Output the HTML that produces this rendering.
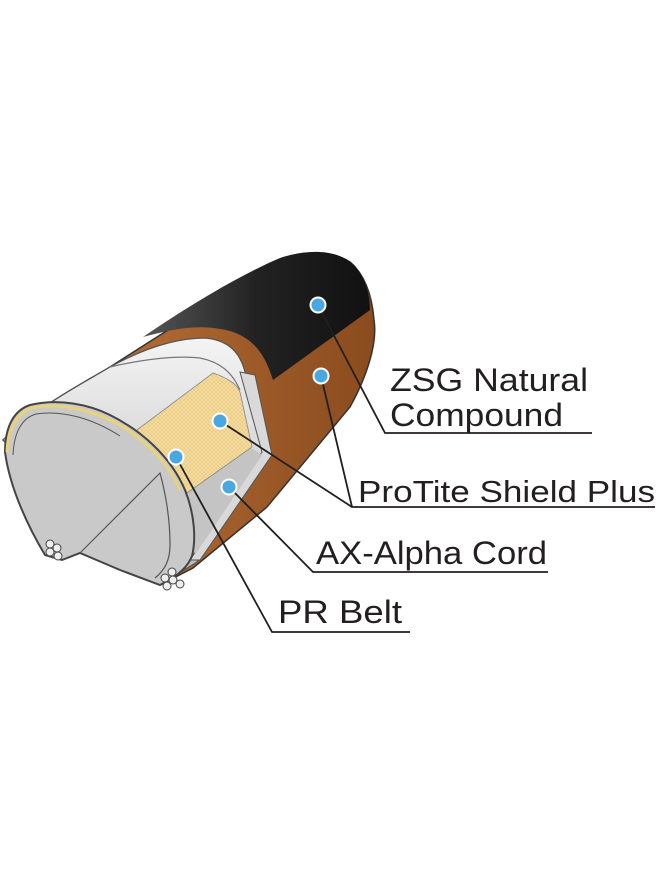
<!DOCTYPE html>
<html><head><meta charset="utf-8"><style>
html,body{margin:0;padding:0;background:#fff;width:660px;height:890px;overflow:hidden}
svg{display:block}
text{font-family:"Liberation Sans",sans-serif;fill:#231f20}
</style></head><body>
<svg width="660" height="890" viewBox="0 0 660 890">
<defs>
<pattern id="mesh" width="4" height="4" patternUnits="userSpaceOnUse">
<rect width="4" height="4" fill="#f6e0a8"/><path d="M0 0L4 4M4 0L0 4" stroke="#e8c77a" stroke-width="0.7"/>
</pattern>
<linearGradient id="blk" x1="0" y1="0" x2="1" y2="0"><stop offset="0" stop-color="#555"/><stop offset=".5" stop-color="#222"/><stop offset="1" stop-color="#111"/></linearGradient>
<linearGradient id="brn" x1="0" y1="0" x2="1" y2="0"><stop offset="0" stop-color="#c47a3e"/><stop offset="1" stop-color="#8a4b1e"/></linearGradient>
<linearGradient id="wht" x1="0" y1="0" x2="0" y2="1"><stop offset="0" stop-color="#f4f4f4"/><stop offset="1" stop-color="#b8b8b8"/></linearGradient>
</defs>
<path d="M3 440 C40 405 80 385 110 367 L157 337 C200 310 230 290 260 270 C290 252 330 250 350 262 C365 275 372 295 374 320 C378 345 365 380 350 407 L267 507 L193 568 L160 585 Z" fill="url(#brn)" stroke="#333" stroke-width="1.5"/>
<path d="M143 337 C190 305 240 275 280 258 C310 248 340 250 355 266 C366 280 370 295 370 310 L273 380 C265 355 255 340 233 332 C200 322 170 330 143 337 Z" fill="url(#blk)"/>
<path d="M3 440 C40 405 80 385 110 367 C150 345 180 338 205 338 C228 340 240 352 245 372 L265 455 L197 562 L160 585 Z" fill="url(#wht)" stroke="#555" stroke-width="1.2"/>
<path d="M110 367 C140 360 175 355 200 358 C220 362 232 372 240 390" fill="none" stroke="#777" stroke-width="1.2"/>
<path d="M240 372 L255 375 L272 455 L200 560 L190 560 L262 452 Z" fill="#d9d9d9" stroke="#555" stroke-width="1"/>
<path d="M133 437 L250 447 L262 455 L195 555 L187 493 Z" fill="#c4c4c4"/>
<path d="M133 433 L213 373 C228 378 238 385 240 392 L252 447 L187 493 C175 470 155 448 133 437 Z" fill="url(#mesh)" stroke="#888" stroke-width="0.8"/>
<path d="M5 452 C5 425 15 410 30 405 C60 398 90 405 110 415 C140 430 170 455 185 490 C195 515 196 540 192 556 C188 566 180 575 160 585 L120 570 L80 553 L62 560 L45 555 C30 530 10 490 5 452 Z" fill="#c9c9c9" stroke="#444" stroke-width="2"/>
<path d="M80 553 L160 473 C166 495 170 520 170 545 C170 560 165 570 155 578" fill="none" stroke="#555" stroke-width="1.2"/>
<path d="M7 452 C8 428 18 412 32 408 C60 402 95 410 125 428 C150 445 170 465 180 490" fill="none" stroke="#e8d27a" stroke-width="3"/>
<path d="M13 455 C14 432 22 418 36 414 C62 410 92 418 120 436" fill="none" stroke="#555" stroke-width="1"/>
<g fill="#eee" stroke="#444" stroke-width="1">
<circle cx="50" cy="544" r="4"/><circle cx="57" cy="548" r="4"/><circle cx="50" cy="552" r="4"/><circle cx="58" cy="556" r="4"/>
<circle cx="165" cy="578" r="4"/><circle cx="172" cy="572" r="4"/><circle cx="173" cy="580" r="4"/><circle cx="167" cy="586" r="4"/><circle cx="180" cy="584" r="4"/>
</g>
<g fill="none" stroke="#231f20" stroke-width="1.8">
<polyline points="318,305 385,433 592,433"/>
<polyline points="321,376 352,507 655,507"/>
<polyline points="220,421 352,507"/>
<polyline points="229,487 313,572 548,572"/>
<polyline points="176,457 272,632 410,632"/>
</g>
<g fill="#4aa8e0" stroke="#fff" stroke-width="2">
<circle cx="318" cy="305" r="7.5"/><circle cx="321" cy="376" r="7.5"/><circle cx="220" cy="421" r="7.5"/><circle cx="176" cy="457" r="7.5"/><circle cx="229" cy="487" r="7.5"/>
</g>
<text x="390" y="391" font-size="32" textLength="198" lengthAdjust="spacingAndGlyphs">ZSG Natural</text>
<text x="390" y="426" font-size="32" textLength="173" lengthAdjust="spacingAndGlyphs">Compound</text>
<text x="358" y="502" font-size="31" textLength="297" lengthAdjust="spacingAndGlyphs">ProTite Shield Plus</text>
<text x="316" y="564" font-size="32" textLength="231" lengthAdjust="spacingAndGlyphs">AX-Alpha Cord</text>
<text x="278" y="623" font-size="32" textLength="124" lengthAdjust="spacingAndGlyphs">PR Belt</text>
</svg>
</body></html>
